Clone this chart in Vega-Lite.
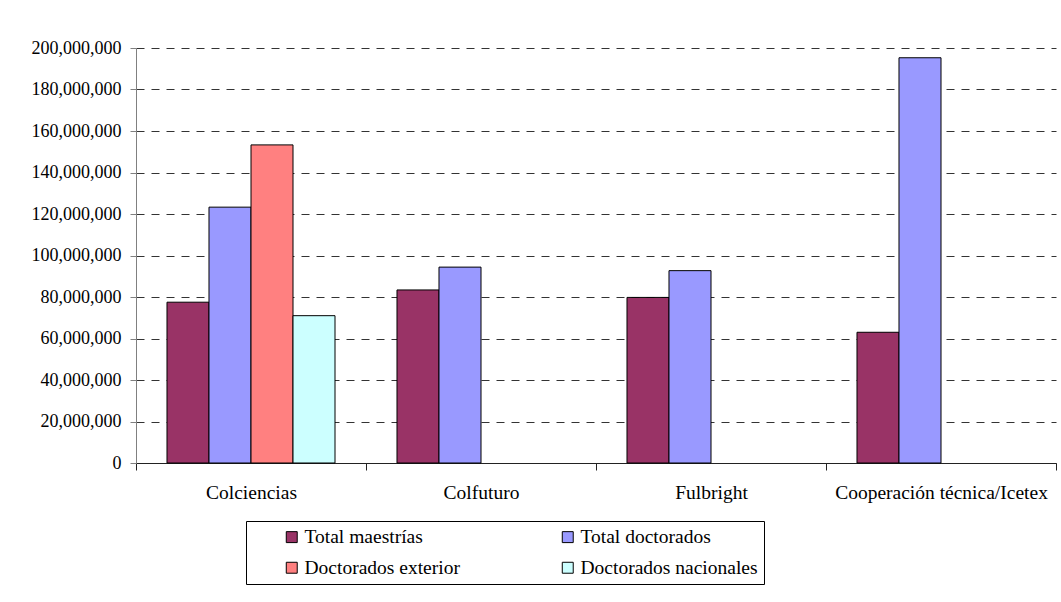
{
  "$schema": "https://vega.github.io/schema/vega-lite/v6.json",
  "autosize": "none",
  "width": 920,
  "height": 415,
  "padding": {"left": 136, "top": 48, "right": 5, "bottom": 139},
  "background": "white",
  "config": {
    "view": {"stroke": null},
    "font": "Liberation Serif",
    "axis": {"labelFont": "Liberation Serif"},
    "legend": {"labelFont": "Liberation Serif"}
  },
  "data": {
    "values": [
      {"Entidad": "Colciencias", "Serie": "Total maestrías", "Valor": 77500000},
      {"Entidad": "Colciencias", "Serie": "Total doctorados", "Valor": 123300000},
      {"Entidad": "Colciencias", "Serie": "Doctorados exterior", "Valor": 153300000},
      {"Entidad": "Colciencias", "Serie": "Doctorados nacionales", "Valor": 71000000},
      {"Entidad": "Colfuturo", "Serie": "Total maestrías", "Valor": 83400000},
      {"Entidad": "Colfuturo", "Serie": "Total doctorados", "Valor": 94400000},
      {"Entidad": "Fulbright", "Serie": "Total maestrías", "Valor": 79800000},
      {"Entidad": "Fulbright", "Serie": "Total doctorados", "Valor": 92700000},
      {"Entidad": "Cooperación técnica/Icetex", "Serie": "Total maestrías", "Valor": 63000000},
      {"Entidad": "Cooperación técnica/Icetex", "Serie": "Total doctorados", "Valor": 195300000}
    ]
  },
  "mark": {"type": "bar", "stroke": "black", "strokeWidth": 1},
  "encoding": {
    "x": {
      "field": "Entidad",
      "type": "nominal",
      "sort": ["Colciencias", "Colfuturo", "Fulbright", "Cooperación técnica/Icetex"],
      "scale": {"paddingInner": 0, "paddingOuter": 0},
      "axis": {
        "title": null,
        "labelAngle": 0,
        "labelFont": "Liberation Serif",
        "labelFontSize": 19.5,
        "labelColor": "black",
        "labelPadding": 13,
        "tickBand": "extent",
        "tickSize": 7,
        "tickColor": "#222",
        "domainColor": "#222",
        "labelLimit": 400
      }
    },
    "xOffset": {
      "field": "Serie",
      "type": "nominal",
      "sort": ["Total maestrías", "Total doctorados", "Doctorados exterior", "Doctorados nacionales"],
      "scale": {"paddingInner": 0, "paddingOuter": 0.738}
    },
    "y": {
      "field": "Valor",
      "type": "quantitative",
      "scale": {"domain": [0, 200000000], "nice": false},
      "axis": {
        "title": null,
        "values": [0, 20000000, 40000000, 60000000, 80000000, 100000000, 120000000, 140000000, 160000000, 180000000, 200000000],
        "format": ",.0f",
        "labelFont": "Liberation Serif",
        "labelFontSize": 18,
        "labelColor": "black",
        "labelPadding": 9,
        "tickSize": 6,
        "tickColor": "#808080",
        "domainColor": "#808080",
        "grid": true,
        "gridColor": "#333",
        "gridDash": [8, 7],
        "gridWidth": 1
      }
    },
    "fill": {
      "field": "Serie",
      "type": "nominal",
      "sort": ["Total maestrías", "Total doctorados", "Doctorados exterior", "Doctorados nacionales"],
      "scale": {
        "domain": ["Total maestrías", "Total doctorados", "Doctorados exterior", "Doctorados nacionales"],
        "range": ["#993366", "#9999FF", "#FF8080", "#CCFFFF"]
      },
      "legend": {
        "title": null,
        "orient": "none",
        "legendX": 110,
        "legendY": 473,
        "columns": 2,
        "direction": "horizontal",
        "strokeColor": "black",
        "padding": 6,
        "symbolType": "square",
        "symbolSize": 120,
        "symbolStrokeColor": "black",
        "symbolStrokeWidth": 1,
        "symbolOffset": 30,
        "labelOffset": 3,
        "labelFont": "Liberation Serif",
        "labelFontSize": 19.5,
        "labelColor": "black",
        "labelLimit": 300,
        "columnPadding": 68,
        "rowPadding": 10
      }
    }
  }
}
